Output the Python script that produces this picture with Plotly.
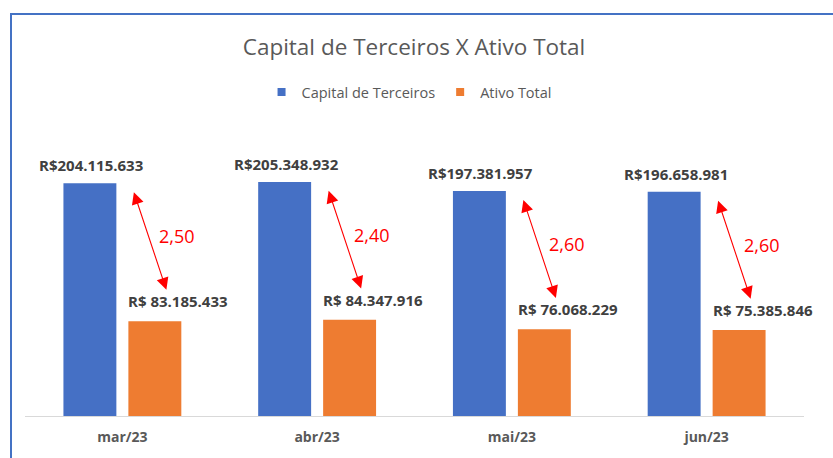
import plotly.graph_objects as go

months = ["mar/23", "abr/23", "mai/23", "jun/23"]
capital_terceiros = [204115633, 205348932, 197381957, 196658981]
ativo_total = [83185433, 84347916, 76068229, 75385846]
ratio_labels = ["2,50", "2,40", "2,60", "2,60"]

BLUE = "#4570C5"
ORANGE = "#EE7C31"
GRAY = "#595959"
DARK = "#404040"
FONT = "Open Sans, Noto Sans, sans-serif"


def brl(v, space=False):
    s = f"{v:,}".replace(",", ".")
    return ("R$ " if space else "R$") + s


fig = go.Figure()
fig.add_trace(go.Bar(name="Capital de Terceiros", x=months, y=capital_terceiros,
                     marker=dict(color=BLUE, line=dict(width=0)), showlegend=False))
fig.add_trace(go.Bar(name="Ativo Total", x=months, y=ativo_total,
                     marker=dict(color=ORANGE, line=dict(width=0)), showlegend=False))
# legend entries with small square keys
for name, col in [("Capital de Terceiros", BLUE), ("Ativo Total", ORANGE)]:
    fig.add_trace(go.Scatter(name=name, x=[None], y=[None], mode="markers",
                             marker=dict(symbol="square", size=8, color=col),
                             showlegend=True, hoverinfo="skip"))

annotations = []
for m, c, a, r in zip(months, capital_terceiros, ativo_total, ratio_labels):
    annotations.append(dict(x=m, y=c, xref="x", yref="y", text=brl(c), showarrow=False,
                            xshift=-31, yshift=18, yanchor="middle",
                            font=dict(family=FONT, size=15, color=DARK, weight="bold")))
    annotations.append(dict(x=m, y=a, xref="x", yref="y", text=brl(a, True), showarrow=False,
                            xshift=56, yshift=20, yanchor="middle",
                            font=dict(family=FONT, size=15, color=DARK, weight="bold")))
    # double-headed arrow between the two bars
    top = c - 6.5e6
    bottom = a + 27.5e6
    annotations.append(dict(x=m, y=bottom, xref="x", yref="y", text="", showarrow=True,
                            xshift=44, ax=-33, ay=top, axref="pixel", ayref="y",
                            arrowhead=2, startarrowhead=2, arrowside="end+start",
                            arrowsize=2.2, startarrowsize=2.2, arrowwidth=1.1,
                            arrowcolor="#FF0000", standoff=0, startstandoff=0))
    annotations.append(dict(x=m, y=(top + bottom) / 2, xref="x", yref="y", text=r,
                            showarrow=False, xshift=55, yshift=4,
                            font=dict(family=FONT, size=18, color="#FF0000")))

fig.update_layout(
    width=833, height=458,
    margin=dict(l=25, r=29, t=131, b=42, autoexpand=False),
    paper_bgcolor="white", plot_bgcolor="white",
    barmode="group", bargap=0.333, bargroupgap=0.185,
    title=dict(text="Capital de Terceiros X Ativo Total", x=0.497, xanchor="center",
               y=1 - 47 / 458, yanchor="middle",
               font=dict(family=FONT, size=22.5, color=GRAY)),
    legend=dict(orientation="h", x=0.493, xanchor="center", y=1.137, yanchor="middle",
                font=dict(family=FONT, size=14.5, color=GRAY), itemwidth=30,
                traceorder="normal"),
    xaxis=dict(showline=True, linecolor="#D9D9D9", linewidth=1, ticks="",
               showgrid=False, ticklabelstandoff=8, automargin=False,
               range=[-0.5, len(months) - 0.5],
               tickfont=dict(family=FONT, size=14, color=GRAY, weight="bold")),
    yaxis=dict(range=[0, 250e6], visible=False, showgrid=False, automargin=False),
    annotations=annotations,
    shapes=[dict(type="rect", xref="paper", yref="paper",
                 x0=(11 - 25) / 779, x1=1.2, y0=-0.5, y1=1 + (131 - 14) / 285,
                 line=dict(color="#4472C4", width=2), fillcolor="rgba(0,0,0,0)",
                 layer="above")],
)

fig.write_html("out.html", config={"displayModeBar": False},
               post_script="document.body.style.margin='0';")
